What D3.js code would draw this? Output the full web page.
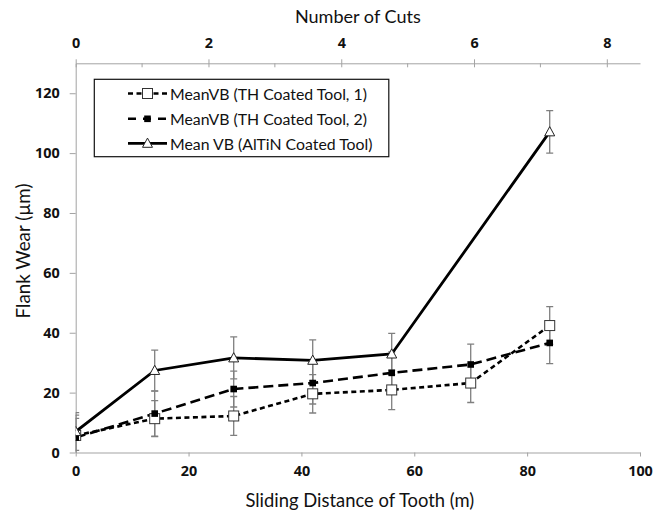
<!DOCTYPE html>
<html>
<head>
<meta charset="utf-8">
<script src="https://cdn.jsdelivr.net/npm/d3@7"></script>
<style>
  body { margin: 0; background: #fff; }
  svg { display: block; }
</style>
</head>
<body>
<svg id="chart" width="672" height="520"></svg>
<script>
// Sliding distance (m) at each measurement
const distance = [0, 14, 28, 42, 56, 70, 84];
const distanceAltin = [0, 14, 28, 42, 56, 84];

// Mean flank wear VB (µm) and error (±)
const thTool1 = [5.7, 11.3, 12.2, 19.6, 20.9, 23.2, 42.4];
const thTool1Err = [6.8, 6.0, 6.5, 6.4, 6.6, 6.5, 6.3];
const thTool2 = [5.0, 13.0, 21.2, 23.2, 26.6, 29.4, 36.6];
const thTool2Err = [6.4, 7.5, 6.0, 7.0, 7.0, 6.8, 6.9];
const altinTool = [7.0, 27.4, 31.6, 30.8, 32.9, 107.1];
const altinErr = [6.3, 6.8, 7.0, 6.8, 6.9, 7.1];

// Tick labels
const distanceTicks = [0, 20, 40, 60, 80, 100];
const wearTicks = [0, 20, 40, 60, 80, 100, 120];
const cutTicks = [0, 2, 4, 6, 8];
const cutMinorTicks = [1, 3, 5, 7];

const seriesNames = [
  "MeanVB (TH Coated Tool, 1)",
  "MeanVB (TH Coated Tool, 2)",
  "Mean VB (AlTiN Coated Tool)"
];

const FONT = "Lato, 'Open Sans', sans-serif";
const TICK_FONT = "'Open Sans', 'Noto Sans', sans-serif";
const AXIS_GRAY = "#a3a3a3";
const ERR_GRAY = "#7f7f7f";

const svg = d3.select("#chart");
const plot = { left: 75.7, right: 640, top: 63.3, bottom: 452.5 };

const x = d3.scaleLinear().domain([0, 100]).range([plot.left, plot.right]);
const xTop = d3.scaleLinear().domain([0, 8.5]).range([plot.left, plot.right]);
const y = d3.scaleLinear().domain([0, 130]).range([plot.bottom, plot.top]);

// scale a text's font size so that it spans the wanted width
function fitWidth(sel, width) {
  const w = sel.node().getComputedTextLength();
  const fs = parseFloat(sel.attr("font-size"));
  sel.attr("font-size", fs * width / w);
  return fs * width / w;
}

// ---- axes ----
const bottomAxis = svg.append("g")
  .attr("transform", `translate(0,${plot.bottom})`)
  .call(d3.axisBottom(x).tickValues(distanceTicks).tickSize(4).tickSizeOuter(0).tickPadding(9));

const leftAxis = svg.append("g")
  .attr("transform", `translate(${plot.left},0)`)
  .call(d3.axisLeft(y).tickValues(wearTicks).tickSize(6).tickSizeOuter(0).tickPadding(10));

const topAxis = svg.append("g")
  .attr("transform", `translate(0,${plot.top})`)
  .call(d3.axisTop(xTop).tickValues(cutTicks).tickSize(4).tickSizeOuter(0).tickPadding(11));

// major ticks on the top axis cross the line, minor ones point inward
topAxis.selectAll(".tick line").attr("y1", 4).attr("y2", -4);
topAxis.selectAll(".minor")
  .data(cutMinorTicks).enter().append("line")
  .attr("class", "minor")
  .attr("x1", d => xTop(d)).attr("x2", d => xTop(d))
  .attr("y1", 0).attr("y2", 4);

[bottomAxis, leftAxis, topAxis].forEach(g => {
  g.selectAll("path.domain").attr("stroke", AXIS_GRAY).attr("stroke-width", 1);
  g.selectAll("line").attr("stroke", AXIS_GRAY).attr("stroke-width", 1);
  g.selectAll("text")
    .attr("font-family", TICK_FONT)
    .attr("font-size", 14.4)
    .attr("font-weight", "bold")
    .attr("fill", "#111");
});

// ---- axis titles ----
const topTitle = svg.append("text")
  .attr("x", (plot.left + plot.right) / 2).attr("y", 16)
  .attr("text-anchor", "middle").attr("dominant-baseline", "central")
  .attr("font-family", FONT).attr("font-size", 16).attr("fill", "#111")
  .text("Number of Cuts");
fitWidth(topTitle, 126);

const bottomTitle = svg.append("text")
  .attr("x", (plot.left + plot.right) / 2 + 2).attr("y", 500)
  .attr("text-anchor", "middle").attr("dominant-baseline", "central")
  .attr("font-family", FONT).attr("font-size", 16).attr("fill", "#111")
  .text("Sliding Distance of Tooth (m)");
fitWidth(bottomTitle, 229);

const leftTitle = svg.append("text")
  .attr("transform", "translate(22,251) rotate(-90)")
  .attr("text-anchor", "middle").attr("dominant-baseline", "central")
  .attr("font-family", FONT).attr("font-size", 16).attr("fill", "#111")
  .text("Flank Wear (µm)");
fitWidth(leftTitle, 135);

// ---- data ----
const series = [
  { name: seriesNames[0], xs: distance, ys: thTool1, err: thTool1Err, dash: "5,3.5", marker: "openSquare" },
  { name: seriesNames[1], xs: distance, ys: thTool2, err: thTool2Err, dash: "10,5", marker: "filledSquare" },
  { name: seriesNames[2], xs: distanceAltin, ys: altinTool, err: altinErr, dash: null, marker: "triangle" }
];
series.forEach(s => { s.points = s.xs.map((d, i) => ({ x: d, y: s.ys[i], e: s.err[i] })); });

svg.append("clipPath").attr("id", "plotClip")
  .append("rect")
  .attr("x", plot.left).attr("y", plot.top)
  .attr("width", plot.right - plot.left).attr("height", plot.bottom - plot.top);

const dataLayer = svg.append("g").attr("clip-path", "url(#plotClip)");

// error bars
const errLayer = dataLayer.append("g");
series.forEach(s => {
  const g = errLayer.append("g");
  const bars = g.selectAll("g").data(s.points).enter().append("g")
    .attr("stroke", ERR_GRAY).attr("stroke-width", 1.3);
  bars.append("line")
    .attr("x1", d => x(d.x)).attr("x2", d => x(d.x))
    .attr("y1", d => y(d.y - d.e)).attr("y2", d => y(d.y + d.e));
  [-1, 1].forEach(sign => {
    bars.append("line")
      .attr("x1", d => x(d.x) - 3.5).attr("x2", d => x(d.x) + 3.5)
      .attr("y1", d => y(d.y + sign * d.e)).attr("y2", d => y(d.y + sign * d.e));
  });
});

const line = d3.line().x(d => x(d.x)).y(d => y(d.y));

// lines
series.forEach(s => {
  dataLayer.append("path")
    .datum(s.points)
    .attr("d", line)
    .attr("fill", "none")
    .attr("stroke", "#000")
    .attr("stroke-width", s.dash ? 2.6 : 2.8)
    .attr("stroke-dasharray", s.dash);
});

// marker drawing
function drawMarker(g, type, cx, cy) {
  if (type === "openSquare") {
    g.append("rect").attr("x", cx - 5).attr("y", cy - 5).attr("width", 10).attr("height", 10)
      .attr("fill", "#fff").attr("stroke", "#333").attr("stroke-width", 1);
  } else if (type === "filledSquare") {
    g.append("rect").attr("x", cx - 3.3).attr("y", cy - 3.3).attr("width", 6.6).attr("height", 6.6)
      .attr("fill", "#000");
  } else {
    g.append("path")
      .attr("d", `M${cx},${cy - 5.2}L${cx + 5},${cy + 4}L${cx - 5},${cy + 4}Z`)
      .attr("fill", "#fff").attr("stroke", "#222").attr("stroke-width", 1);
  }
}

series.forEach(s => {
  const g = dataLayer.append("g");
  s.points.forEach(p => drawMarker(g, s.marker, x(p.x), y(p.y)));
});

// ---- legend ----
const legend = svg.append("g");
legend.append("rect")
  .attr("x", 94.3).attr("y", 79.3).attr("width", 294.5).attr("height", 77.4)
  .attr("fill", "#fff").attr("stroke", "#111").attr("stroke-width", 1.2);

const rowY = [93.5, 118.8, 143.3];
let legendFont = null;
series.forEach((s, i) => {
  const yy = rowY[i];
  legend.append("line")
    .attr("x1", 128).attr("x2", 167).attr("y1", yy).attr("y2", yy)
    .attr("stroke", "#000")
    .attr("stroke-width", s.dash ? 2.6 : 2.8)
    .attr("stroke-dasharray", s.dash ? (i === 0 ? "5,3.5" : "8,7") : null);
  drawMarker(legend, s.marker, 147.5, yy);
  const t = legend.append("text")
    .attr("x", 170).attr("y", yy)
    .attr("dominant-baseline", "central")
    .attr("font-family", FONT).attr("font-size", 16).attr("fill", "#111")
    .text(s.name);
  if (legendFont === null) legendFont = fitWidth(t, 197);
  else t.attr("font-size", legendFont);
});
</script>
</body>
</html>
